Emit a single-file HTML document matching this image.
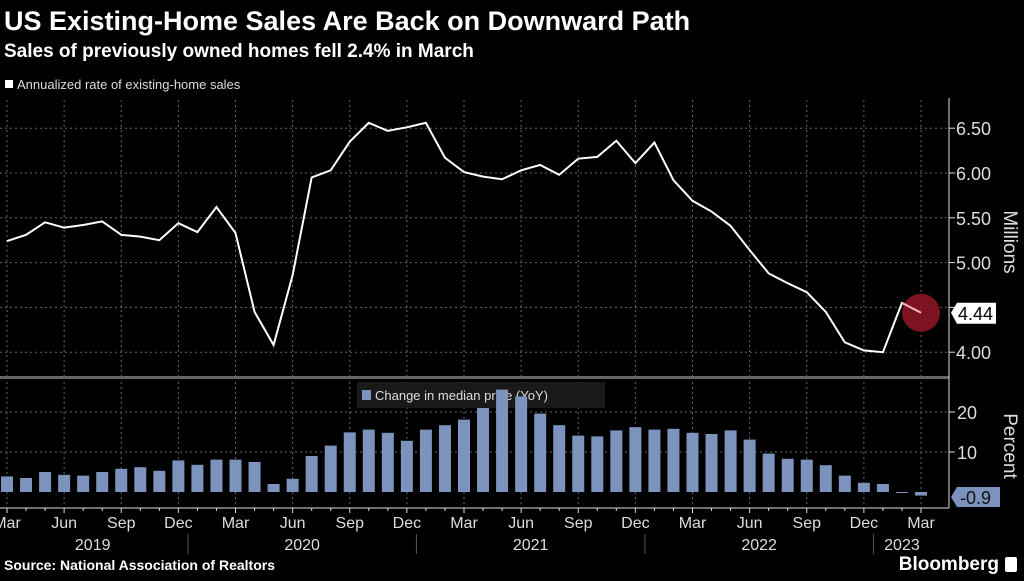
<!DOCTYPE html>
<html><head><meta charset="utf-8"><style>
body{margin:0;background:#000;width:1024px;height:576px;overflow:hidden;font-family:"Liberation Sans",sans-serif;color:#fff}
</style></head><body>
<svg id="c" width="1024" height="576" xmlns="http://www.w3.org/2000/svg">
<text x="4" y="30" font-size="27" font-weight="bold" fill="#fff">US Existing-Home Sales Are Back on Downward Path</text>
<text x="4" y="57" font-size="19" font-weight="bold" fill="#fff">Sales of previously owned homes fell 2.4% in March</text>
<rect x="5" y="80" width="8" height="8" fill="#fff"/>
<text x="17" y="89" font-size="13" fill="#ddd">Annualized rate of existing-home sales</text>
<g id="grid"></g>
<g id="legend2"></g>
<g id="bars"></g>
<g id="line"></g>
<g id="axes"></g>
<text x="4" y="570" font-size="14" font-weight="bold" fill="#fff">Source: National Association of Realtors</text>
<text x="999" y="570" font-size="19" font-weight="bold" fill="#fff" text-anchor="end">Bloomberg</text>
<rect x="1005" y="557" width="12" height="15" rx="2" fill="#fff"/>
</svg>
<script>
const sales=[5.24,5.31,5.45,5.39,5.42,5.46,5.31,5.29,5.25,5.44,5.34,5.62,5.33,4.45,4.08,4.86,5.95,6.03,6.35,6.56,6.47,6.51,6.56,6.17,6.01,5.96,5.93,6.03,6.09,5.98,6.16,6.18,6.36,6.11,6.34,5.92,5.69,5.57,5.41,5.14,4.88,4.77,4.67,4.45,4.11,4.02,4.00,4.55,4.44];
const priceChg=[3.9,3.5,5.0,4.3,4.1,5.0,5.8,6.2,5.3,7.9,6.8,8.1,8.1,7.5,2.0,3.3,9.0,11.6,14.9,15.6,14.8,12.8,15.6,16.7,18.1,21.0,25.6,23.9,19.6,16.7,14.1,13.9,15.4,16.2,15.6,15.8,14.8,14.5,15.4,13.1,9.6,8.3,8.1,6.7,4.1,2.3,2.0,-0.2,-0.9];
const topTicks=[4.00,4.50,5.00,5.50,6.00,6.50];
const botTicks=[10,20];
const monthLabels=["Mar","Jun","Sep","Dec"];
const years=["2019","2020","2021","2022","2023"];
const NS="http://www.w3.org/2000/svg";
function mk(t,a,p,txt){const e=document.createElementNS(NS,t);for(const k in a)e.setAttribute(k,a[k]);if(txt!==undefined)e.textContent=txt;p.appendChild(e);return e;}
const X=i=>7+i*(914/48);
const Y1=v=>173+(6-v)*89.6;
const Y2=v=>492-v*4;
const grid=document.getElementById('grid'),bars=document.getElementById('bars'),line=document.getElementById('line'),axes=document.getElementById('axes'),leg2=document.getElementById('legend2');
for(let i=0;i<sales.length;i+=3){
 const g=mk('line',{x1:X(i),x2:X(i),y1:100,y2:376,stroke:'#666','stroke-dasharray':'2,3','stroke-width':1},grid);
 
 const g2=mk('line',{x1:X(i),x2:X(i),y1:382,y2:506,stroke:'#666','stroke-dasharray':'2,3','stroke-width':1},grid);
 
}
topTicks.forEach(t=>{
 const y=Y1(t);
 const g=mk('line',{x1:0,x2:948,y1:y,y2:y,stroke:'#666','stroke-dasharray':'2,3'},grid);
 
 if(t!==4.5){const l=mk('text',{x:956,y:y+7,'font-size':18,fill:'#ddd'},axes,t.toFixed(2));
 }
 const tk=mk('line',{x1:949,x2:955,y1:y,y2:y,stroke:'#ddd'},axes);
 
});
botTicks.forEach(t=>{
 const y=Y2(t);
 const g=mk('line',{x1:0,x2:948,y1:y,y2:y,stroke:'#666','stroke-dasharray':'2,3'},grid);
 
 const l=mk('text',{x:957,y:y+7,'font-size':18,fill:'#ddd'},axes,String(t));
 
 const tk=mk('line',{x1:949,x2:955,y1:y,y2:y,stroke:'#ddd'},axes);
 
});
const lb=mk('rect',{x:357,y:382,width:248,height:26,fill:'#1c1c1c',opacity:0.9},leg2);

const ls=mk('rect',{x:362,y:390,width:9,height:10,fill:'#7b93bd'},leg2);

const lt=mk('text',{x:375,y:400,'font-size':13,fill:'#ddd'},leg2,'Change in median price (YoY)');

priceChg.forEach((v,i)=>{
 const y=Math.min(Y2(v),Y2(0)),h=Math.max(Math.abs(Y2(v)-Y2(0)),1);
 const b=mk('rect',{x:X(i)-6,y:y,width:12,height:h,fill:'#7b93bd'},bars);
 
});
const pl=mk('polyline',{points:sales.map((v,i)=>X(i)+','+Y1(v)).join(' '),fill:'none',stroke:'#fff','stroke-width':2},line);

const last=sales.length-1;
const dot=mk('circle',{cx:X(last),cy:Y1(sales[last]),r:19,fill:'#8b1425',opacity:0.9},line);

const seg=mk('line',{x1:X(last-1),y1:Y1(sales[last-1]),x2:X(last),y2:Y1(sales[last]),stroke:'#f4b8c0','stroke-width':2},line);

const vy=Y1(sales[last]);
const vb=mk('path',{d:`M951 ${vy} L957 ${vy-10} L996 ${vy-10} L996 ${vy+11} L957 ${vy+11} Z`,fill:'#fff'},axes);

const vt=mk('text',{x:958,y:vy+7,'font-size':18,fill:'#000'},axes,sales[last].toFixed(2));

const py=Y2(0)+5;
const pb=mk('path',{d:`M951 ${py} L957 ${py-10} L1000 ${py-10} L1000 ${py+10} L957 ${py+10} Z`,fill:'#7b93bd'},axes);

const pt=mk('text',{x:960,y:py+7,'font-size':18,fill:'#111'},axes,priceChg[last].toFixed(1));

const sep=mk('rect',{x:0,y:376,width:949,height:3,fill:'#666'},axes);

const ra=mk('line',{x1:949,x2:949,y1:98,y2:508,stroke:'#ddd'},axes);

const xa=mk('line',{x1:0,x2:949,y1:508,y2:508,stroke:'#ddd'},axes);

for(let i=0;i<sales.length;i++){
 const t=mk('line',{x1:X(i),x2:X(i),y1:508,y2:i%3===0?513:511,stroke:'#ddd'},axes);
 
 if(i%3===0){const l=mk('text',{x:X(i),y:528,'font-size':16,fill:'#ddd','text-anchor':'middle'},axes,monthLabels[(i/3)%4]);
 }
}
years.forEach((yr,k)=>{
 const s=k===0?0:10+12*(k-1);const e=Math.min(9+12*k,48);
 const l=mk('text',{x:(X(s)+X(e))/2,y:550,'font-size':16,fill:'#ddd','text-anchor':'middle'},axes,yr);
 
 if(k>0){const d=mk('line',{x1:X(s)-9.5,x2:X(s)-9.5,y1:534,y2:554,stroke:'#555'},axes);
 }
});
const m=mk('text',{x:1004,y:242,'font-size':19,fill:'#ddd','text-anchor':'middle',transform:'rotate(90 1004 242)'},axes,'Millions');

const p=mk('text',{x:1004,y:446,'font-size':19,fill:'#ddd','text-anchor':'middle',transform:'rotate(90 1004 446)'},axes,'Percent');

</script>
</body></html>
